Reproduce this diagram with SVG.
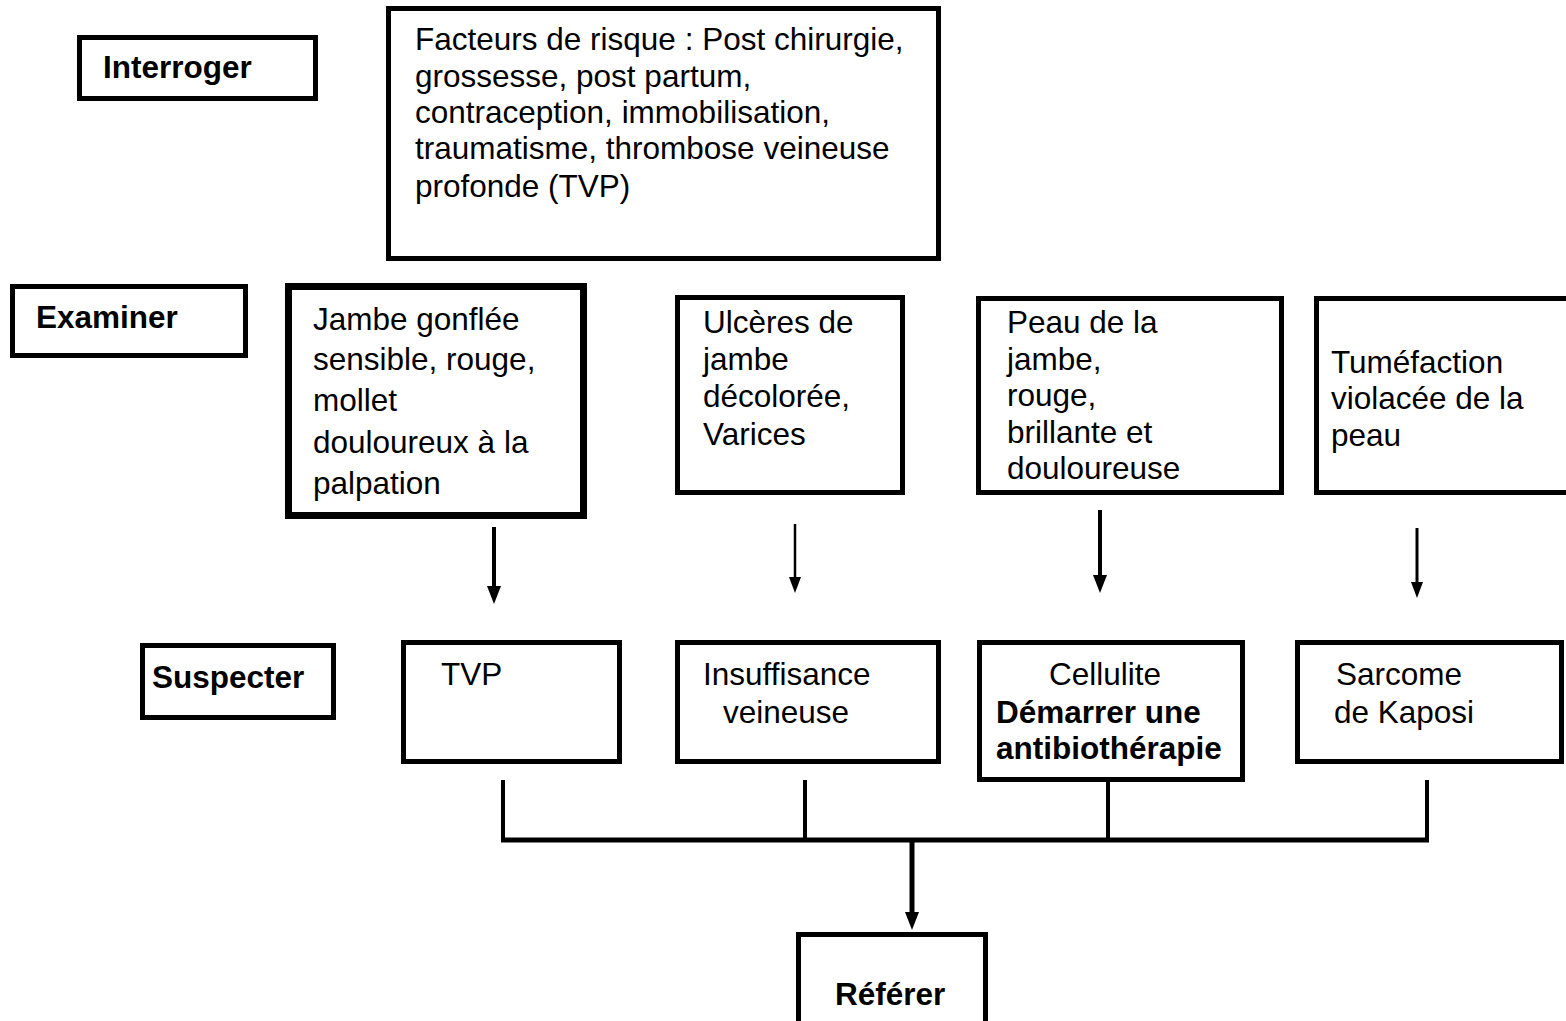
<svg xmlns="http://www.w3.org/2000/svg" width="1566" height="1021" viewBox="0 0 1566 1021">
<style>
  .box { fill: #fff; stroke: #000; stroke-width: 5; }
  .thick { stroke-width: 7; }
  text { font-family: "Liberation Sans", Arial, sans-serif; font-size: 31.5px; fill: #000; }
  .b { font-weight: bold; }
  .ln { stroke: #000; fill: none; stroke-linecap: butt; }
</style>
<defs>
  <marker id="ah" markerUnits="userSpaceOnUse" viewBox="0 0 18 14" markerWidth="18" markerHeight="14" refX="8" refY="7" orient="auto">
    <path d="M0,0 L18,7 L0,14 Z" fill="#000"/>
  </marker>
  <marker id="ahs" markerUnits="userSpaceOnUse" viewBox="0 0 16 12" markerWidth="16" markerHeight="12" refX="7" refY="6" orient="auto">
    <path d="M0,0 L16,6 L0,12 Z" fill="#000"/>
  </marker>
</defs>
<rect width="1566" height="1021" fill="#fff"/>

<g id="interroger">
  <rect class="box" x="79.5" y="37.5" width="236" height="61"/>
  <text class="b" x="103" y="78">Interroger</text>
</g>
<g id="facteurs">
  <rect class="box" x="388.5" y="8.5" width="550" height="250"/>
  <text x="415" y="50">Facteurs de risque : Post chirurgie,</text>
  <text x="415" y="87">grossesse, post partum,</text>
  <text x="415" y="123">contraception, immobilisation,</text>
  <text x="415" y="159">traumatisme, thrombose veineuse</text>
  <text x="415" y="197">profonde (TVP)</text>
</g>
<g id="examiner">
  <rect class="box" x="12.5" y="286.5" width="233" height="69"/>
  <text class="b" x="36" y="328">Examiner</text>
</g>
<g id="jambe">
  <rect class="box thick" x="288.5" y="286.5" width="295" height="229"/>
  <text x="313" y="330">Jambe gonflée</text>
  <text x="313" y="370">sensible, rouge,</text>
  <text x="313" y="411">mollet</text>
  <text x="313" y="453">douloureux à la</text>
  <text x="313" y="494">palpation</text>
</g>
<g id="ulceres">
  <rect class="box" x="677.5" y="297.5" width="225" height="195"/>
  <text x="703" y="333">Ulcères de</text>
  <text x="703" y="370">jambe</text>
  <text x="703" y="407">décolorée,</text>
  <text x="703" y="445">Varices</text>
</g>
<g id="peau">
  <rect class="box" x="978.5" y="298.5" width="303" height="194"/>
  <text x="1007" y="333">Peau de la</text>
  <text x="1007" y="370">jambe,</text>
  <text x="1007" y="406">rouge,</text>
  <text x="1007" y="443">brillante et</text>
  <text x="1007" y="479">douloureuse</text>
</g>
<g id="tumefaction">
  <rect class="box" x="1316.5" y="298.5" width="270" height="194"/>
  <text x="1331" y="373">Tuméfaction</text>
  <text x="1331" y="409">violacée de la</text>
  <text x="1331" y="446">peau</text>
</g>

<g id="suspecter">
  <rect class="box" x="142.5" y="645.5" width="191" height="72"/>
  <text class="b" x="152" y="688">Suspecter</text>
</g>
<g id="tvp">
  <rect class="box" x="403.5" y="642.5" width="216" height="119"/>
  <text x="441" y="685">TVP</text>
</g>
<g id="insuffisance">
  <rect class="box" x="677.5" y="642.5" width="261" height="119"/>
  <text x="703" y="685">Insuffisance</text>
  <text x="723" y="723">veineuse</text>
</g>
<g id="cellulite">
  <rect class="box" x="979.5" y="642.5" width="263" height="137"/>
  <text x="1049" y="685">Cellulite</text>
  <text class="b" x="996" y="723">Démarrer une</text>
  <text class="b" x="996" y="759">antibiothérapie</text>
</g>
<g id="sarcome">
  <rect class="box" x="1297.5" y="642.5" width="264" height="119"/>
  <text x="1336" y="685">Sarcome</text>
  <text x="1334" y="723">de Kaposi</text>
</g>
<g id="referer">
  <rect class="box" x="798.5" y="934.5" width="187" height="100"/>
  <text class="b" x="835" y="1005">Référer</text>
</g>

<g id="connectors">
  <line class="ln" x1="494" y1="527" x2="494" y2="594" stroke-width="4" marker-end="url(#ah)"/>
  <line class="ln" x1="795" y1="524" x2="795" y2="584" stroke-width="2.5" marker-end="url(#ahs)"/>
  <line class="ln" x1="1100" y1="510" x2="1100" y2="583" stroke-width="4" marker-end="url(#ah)"/>
  <line class="ln" x1="1417" y1="528" x2="1417" y2="589" stroke-width="3" marker-end="url(#ahs)"/>

  <line class="ln" x1="503" y1="780" x2="503" y2="840" stroke-width="4"/>
  <line class="ln" x1="805" y1="780" x2="805" y2="840" stroke-width="4"/>
  <line class="ln" x1="1108" y1="782" x2="1108" y2="840" stroke-width="4"/>
  <line class="ln" x1="1427" y1="780" x2="1427" y2="840" stroke-width="4"/>
  <line class="ln" x1="501" y1="840" x2="1429" y2="840" stroke-width="5"/>
  <line class="ln" x1="912" y1="840" x2="912" y2="920" stroke-width="5" marker-end="url(#ah)"/>
</g>
</svg>
